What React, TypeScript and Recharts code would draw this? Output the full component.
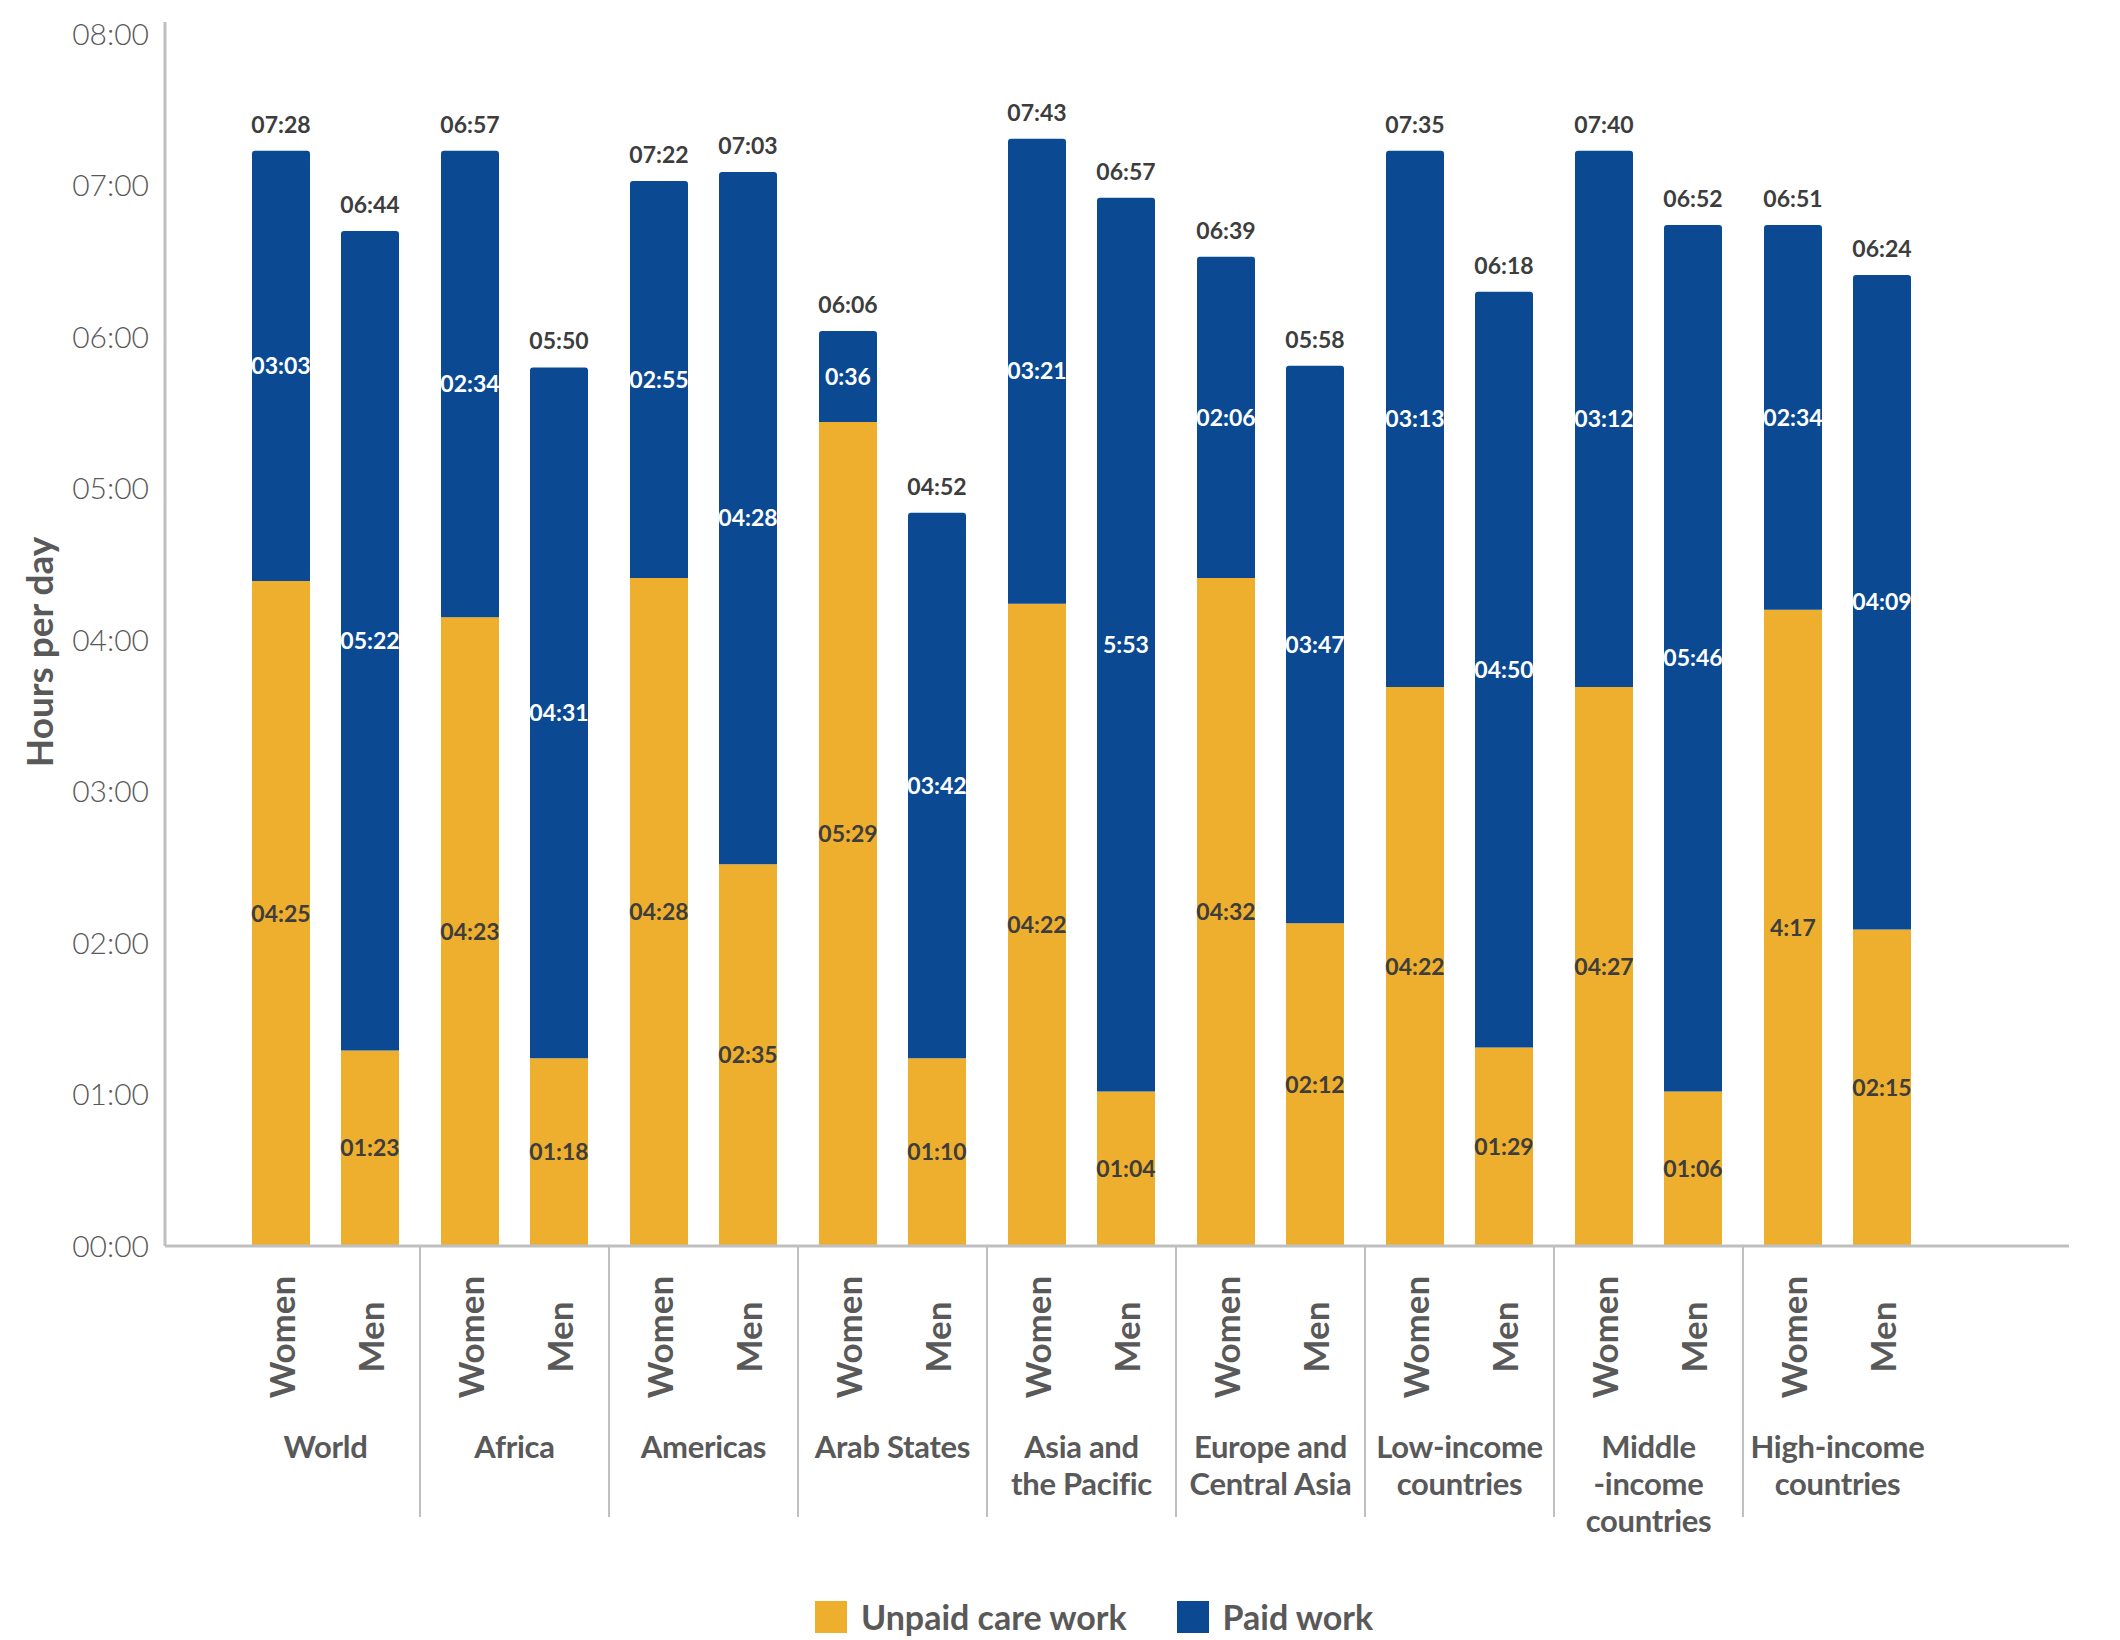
import { BarChart, Bar, XAxis, YAxis, Legend, LabelList } from "recharts";

document.body.style.margin = "0";

const FONT = "Lato, 'Open Sans', sans-serif";
const UNPAID = "#EFAF2E";
const PAID = "#0B4A93";
const GREY = "#595959";
const DARK = "#3d3d3d";
const LINE = "#bfbfbf";

const groups = [
  "World",
  "Africa",
  "Americas",
  "Arab States",
  "Asia and\nthe Pacific",
  "Europe and\nCentral Asia",
  "Low-income\ncountries",
  "Middle\n-income\ncountries",
  "High-income\ncountries",
];

// bar heights in hours, as drawn
const womenUnpaid = [4.39, 4.15, 4.41, 5.44, 4.24, 4.41, 3.69, 3.69, 4.2];
const womenPaid = [2.84, 3.08, 2.62, 0.6, 3.07, 2.12, 3.54, 3.54, 2.54];
const menUnpaid = [1.29, 1.24, 2.52, 1.24, 1.02, 2.13, 1.31, 1.02, 2.09];
const menPaid = [5.41, 4.56, 4.57, 3.6, 5.9, 3.68, 4.99, 5.72, 4.32];

// printed labels
const womenUnpaidText = ["04:25", "04:23", "04:28", "05:29", "04:22", "04:32", "04:22", "04:27", "4:17"];
const womenPaidText = ["03:03", "02:34", "02:55", "0:36", "03:21", "02:06", "03:13", "03:12", "02:34"];
const womenTotalText = ["07:28", "06:57", "07:22", "06:06", "07:43", "06:39", "07:35", "07:40", "06:51"];
const menUnpaidText = ["01:23", "01:18", "02:35", "01:10", "01:04", "02:12", "01:29", "01:06", "02:15"];
const menPaidText = ["05:22", "04:31", "04:28", "03:42", "5:53", "03:47", "04:50", "05:46", "04:09"];
const menTotalText = ["06:44", "05:50", "07:03", "04:52", "06:57", "05:58", "06:18", "06:52", "06:24"];

const yTicks = [0, 1, 2, 3, 4, 5, 6, 7, 8];

const data = groups.map((g, i) => ({
  group: g,
  womenUnpaid: womenUnpaid[i],
  womenPaid: womenPaid[i],
  menUnpaid: menUnpaid[i],
  menPaid: menPaid[i],
  wuText: womenUnpaidText[i],
  wpText: womenPaidText[i],
  wtText: womenTotalText[i],
  muText: menUnpaidText[i],
  mpText: menPaidText[i],
  mtText: menTotalText[i],
}));

const BAR = 58;
const GAP = 31;

function GroupTick(props: any) {
  const { x, y, payload, index } = props;
  const lines = String(payload.value).split("\n");
  const off = (BAR + GAP) / 2;
  const sexStyle = { fontFamily: FONT, fontSize: 35, fontWeight: 700, fill: GREY };
  return (
    <g>
      <text
        transform={`translate(${x - off},${y + 91}) rotate(-90)`}
        textAnchor="middle"
        dominantBaseline="central"
        style={sexStyle}
      >
        Women
      </text>
      <text
        transform={`translate(${x + off},${y + 91}) rotate(-90)`}
        textAnchor="middle"
        dominantBaseline="central"
        style={sexStyle}
      >
        Men
      </text>
      <text
        x={x}
        y={y + 212}
        textAnchor="middle"
        style={{ fontFamily: FONT, fontSize: 31, fontWeight: 700, fill: GREY, letterSpacing: -0.3 }}
      >
        {lines.map((l, k) => (
          <tspan key={k} x={x} dy={k === 0 ? 0 : 37}>
            {l}
          </tspan>
        ))}
      </text>
      {index < groups.length - 1 && (
        <line x1={x + 94.5} x2={x + 94.5} y1={y} y2={y + 271} stroke={LINE} strokeWidth={2} />
      )}
    </g>
  );
}

function LegendContent() {
  const items = [
    { name: "Unpaid care work", color: UNPAID },
    { name: "Paid work", color: PAID },
  ];
  return (
    <div style={{ display: "flex", paddingLeft: 815, alignItems: "center" }}>
      {items.map((it) => (
        <div key={it.name} style={{ display: "flex", alignItems: "center", marginRight: 50 }}>
          <div style={{ width: 32, height: 32, background: it.color, marginRight: 14 }} />
          <span style={{ fontFamily: FONT, fontSize: 34, fontWeight: 700, color: GREY }}>{it.name}</span>
        </div>
      ))}
    </div>
  );
}

const innerLabel = (fill: string) => ({
  fill,
  fontFamily: FONT,
  fontSize: 23,
  fontWeight: 700,
});

export default function App() {
  return (
    <BarChart
      width={2120}
      height={1640}
      data={data}
      margin={{ top: 22, right: 51, bottom: 53, left: 0 }}
      barSize={BAR}
      barGap={GAP}
    >
      <XAxis
        dataKey="group"
        interval={0}
        tick={<GroupTick />}
        tickLine={false}
        tickSize={0}
        tickMargin={0}
        height={300}
        axisLine={{ stroke: LINE, strokeWidth: 3 }}
        padding={{ left: 66, right: 137 }}
      />
      <YAxis
        width={165}
        domain={[0, 8.08]}
        ticks={yTicks}
        tickFormatter={(v: number) => `0${v}:00`}
        tickLine={false}
        tickSize={0}
        tickMargin={16}
        axisLine={{ stroke: LINE, strokeWidth: 3 }}
        tick={{ fill: GREY, fontSize: 30, fontFamily: FONT, fontWeight: 300 }}
        label={{
          value: "Hours per day",
          angle: -90,
          position: "insideLeft",
          offset: 40,
          dy: 18,
          style: { fill: GREY, fontSize: 37, fontWeight: 700, fontFamily: FONT, textAnchor: "middle" },
        }}
      />
      <Legend
        verticalAlign="bottom"
        content={<LegendContent />}
        wrapperStyle={{ top: 1596, left: 0, width: 2120 }}
      />
      <Bar dataKey="womenUnpaid" stackId="w" fill={UNPAID} isAnimationActive={false} legendType="none">
        <LabelList dataKey="wuText" position="center" style={innerLabel(DARK)} />
      </Bar>
      <Bar dataKey="womenPaid" stackId="w" fill={PAID} radius={[3, 3, 0, 0]} isAnimationActive={false}>
        <LabelList dataKey="wpText" position="center" style={innerLabel("#ffffff")} />
        <LabelList dataKey="wtText" position="top" offset={18} style={innerLabel(DARK)} />
      </Bar>
      <Bar dataKey="menUnpaid" stackId="m" fill={UNPAID} isAnimationActive={false}>
        <LabelList dataKey="muText" position="center" style={innerLabel(DARK)} />
      </Bar>
      <Bar dataKey="menPaid" stackId="m" fill={PAID} radius={[3, 3, 0, 0]} isAnimationActive={false}>
        <LabelList dataKey="mpText" position="center" style={innerLabel("#ffffff")} />
        <LabelList dataKey="mtText" position="top" offset={18} style={innerLabel(DARK)} />
      </Bar>
    </BarChart>
  );
}
